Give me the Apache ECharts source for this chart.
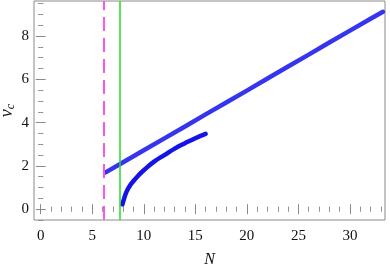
<!DOCTYPE html>
<html>
<head>
<meta charset="utf-8">
<script src="https://cdn.jsdelivr.net/npm/echarts@6/dist/echarts.min.js"></script>
<style>html,body{margin:0;padding:0;background:#fff}#c{width:390px;height:271px}</style>
</head>
<body>
<div id="c"></div>
<script>
// Data
var upperN = [6.3, 8, 10, 12, 14, 16, 18, 20, 22, 24, 26, 28, 30, 32, 33.2];
var upperV = [1.70, 2.17, 2.72, 3.27, 3.82, 4.38, 4.93, 5.48, 6.04, 6.59, 7.14, 7.70, 8.25, 8.80, 9.12];
var lowerN = [7.93, 8.0, 8.1, 8.3, 8.6, 9.0, 9.5, 10, 11, 12, 13, 14, 15, 16];
var lowerV = [0.22, 0.35, 0.5, 0.78, 1.05, 1.3, 1.57, 1.8, 2.2, 2.5, 2.8, 3.05, 3.28, 3.48];
var magentaN = 6.15;
var greenN = 7.7;
var xMajor = [0, 5, 10, 15, 20, 25, 30];
var xMinor = [0,1,2,3,4,5,6,7,8,9,10,11,12,13,14,15,16,17,18,19,20,21,22,23,24,25,26,27,28,29,30,31,32,33];
var yMajor = [0, 2, 4, 6, 8];
var yMinor = [-0.5,0,0.5,1,1.5,2,2.5,3,3.5,4,4.5,5,5.5,6,6.5,7,7.5,8,8.5,9,9.5];
var xRange = [-0.65, 33.4];
var yRange = [-0.5, 9.62];

function zip(a, b) { return a.map(function (v, i) { return [v, b[i]]; }); }

var font = 'Liberation Serif';
var tickColor = '#8a8a8a';
var textColor = '#111111';

function labelStyle(vals, margin) {
  return { show: true, customValues: vals, margin: margin, color: textColor,
           formatter: function (v) { return '{t|' + v + '}'; },
           rich: { t: { fontFamily: font, fontSize: 15, color: textColor } } };
}

function xAx(grid, pos, values, len, labels) {
  return {
    type: 'value', gridIndex: grid, position: pos, min: xRange[0], max: xRange[1],
    axisLine: { show: false },
    splitLine: { show: false },
    axisTick: { show: true, inside: true, length: len, customValues: values, lineStyle: { color: tickColor, width: 1 } },
    axisLabel: labels ? labelStyle(xMajor, 9) : { show: false }
  };
}
function yAx(grid, pos, values, len, labels) {
  return {
    type: 'value', gridIndex: grid, position: pos, min: yRange[0], max: yRange[1],
    axisLine: { show: false },
    splitLine: { show: false },
    axisTick: { show: true, inside: true, length: len, customValues: values, lineStyle: { color: tickColor, width: 1 } },
    axisLabel: labels ? labelStyle(yMajor, 5) : { show: false }
  };
}

var xAxes = [xAx(0, 'bottom', xMajor, 5, true), xAx(0, 'top', xMajor, 5, false), xAx(1, 'bottom', xMinor, 2.5, false), xAx(1, 'top', xMinor, 2.5, false)];
xAxes[0].name = '{n|N}';
xAxes[0].nameLocation = 'middle';
xAxes[0].nameGap = 32;
xAxes[0].nameMoveOverlap = false;
xAxes[0].nameTextStyle = { color: textColor, rich: { n: { fontFamily: font, fontSize: 16, fontStyle: 'italic', color: textColor } } };

var yAxes = [yAx(0, 'left', yMajor, 5, true), yAx(0, 'right', yMajor, 5, false), yAx(1, 'left', yMinor, 2.5, false), yAx(1, 'right', yMinor, 2.5, false)];
yAxes[0].name = '{v|v}{c|c}';
yAxes[0].nameLocation = 'middle';
yAxes[0].nameGap = 17;
yAxes[0].nameRotate = 90;
yAxes[0].nameMoveOverlap = false;
yAxes[0].nameTextStyle = {
  color: textColor,
  rich: {
    v: { fontFamily: font, fontStyle: 'italic', fontSize: 18, color: textColor },
    c: { fontFamily: font, fontStyle: 'italic', fontSize: 12, color: textColor, verticalAlign: 'bottom', padding: [7, 0, 0, 0] }
  }
};

var gridBox = { left: 34, top: 1, right: 5, bottom: 51, containLabel: false, outerBoundsMode: 'none' };

var chart = echarts.init(document.getElementById('c'), null, { renderer: 'canvas' });
chart.setOption({
  animation: false,
  backgroundColor: '#fff',
  textStyle: { fontFamily: font },
  grid: [
    Object.assign({ show: true, borderColor: '#8a8a8a', borderWidth: 1, backgroundColor: 'transparent' }, gridBox),
    Object.assign({ show: false }, gridBox)
  ],
  xAxis: xAxes,
  yAxis: yAxes,
  series: [
    {
      type: 'line', xAxisIndex: 0, yAxisIndex: 0, data: zip(upperN, upperV),
      showSymbol: false, symbol: 'none', smooth: false,
      lineStyle: { color: '#3535f0', width: 4.5, cap: 'round' }, z: 3
    },
    {
      type: 'line', xAxisIndex: 0, yAxisIndex: 0, data: zip(lowerN, lowerV),
      showSymbol: false, symbol: 'none', smooth: true,
      lineStyle: { color: '#1414e6', width: 4.5, cap: 'round' }, z: 3
    },
    {
      type: 'line', xAxisIndex: 0, yAxisIndex: 0, data: [],
      markLine: {
        silent: true, symbol: 'none', label: { show: false },
        data: [
          { xAxis: magentaN, lineStyle: { color: '#ff55ee', width: 2, type: [14, 7] } },
          { xAxis: greenN, lineStyle: { color: '#22dd22', width: 1.5, type: 'solid' } }
        ]
      },
      z: 5
    }
  ]
});
</script>
</body>
</html>
